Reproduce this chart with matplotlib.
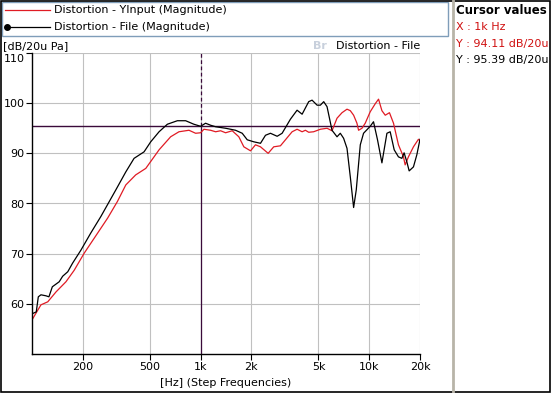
import numpy as np
import matplotlib.pyplot as plt
from matplotlib.lines import Line2D
from matplotlib.patches import Rectangle
from matplotlib.transforms import ScaledTranslation

# Distortion - YInput (Magnitude), red
freq_in = [100, 113, 124, 139, 159, 178, 204, 245, 281, 321, 360, 412, 473, 567,
           664, 744, 853, 934, 1000, 1046, 1146, 1227, 1314, 1406, 1540, 1685,
           1804, 1977, 2115, 2265, 2515, 2714, 2974, 3185, 3488, 3733, 3999, 4182,
           4375, 4680, 5130, 5620, 6014, 6440, 6895, 7381, 7722, 8079, 8455, 8645,
           9053, 9465, 10140, 10860, 11355, 11890, 12440, 13180, 13930, 14900,
           15960, 16330, 17080, 18290, 19580, 20000]
mag_in = [56.8, 59.8, 60.4, 62.4, 64.4, 66.7, 70.1, 74.1, 77.1, 80.4, 83.7, 85.7,
          87.0, 90.7, 93.3, 94.3, 94.6, 94.0, 94.1, 94.8, 94.6, 94.3, 94.5, 94.1,
          94.5, 93.3, 91.3, 90.5, 91.7, 91.3, 90.0, 91.3, 91.5, 92.7, 94.3, 94.8,
          94.3, 94.6, 94.2, 94.3, 94.8, 95.0, 94.5, 97.0, 98.1, 98.8, 98.5, 97.6,
          96.0, 94.6, 95.0, 96.0, 98.3, 99.9, 100.8, 98.5, 97.6, 98.1, 96.0, 91.7,
          89.3, 87.7, 89.3, 91.3, 92.8, 92.5]

# Distortion - File (Magnitude), black
freq_file = [100, 106, 109, 113, 121, 126, 132, 145, 152, 163, 174, 195, 223, 256,
             314, 360, 403, 462, 506, 567, 635, 728, 815, 912, 1000, 1070, 1146,
             1227, 1406, 1611, 1765, 1890, 2066, 2265, 2425, 2595, 2844, 3043, 3408,
             3733, 3999, 4375, 4581, 4906, 5130, 5370, 5620, 6014, 6440, 6735, 7047,
             7381, 7722, 8079, 8375, 8850, 9252, 10140, 10600, 11195, 11890, 12730,
             13310, 14060, 14900, 15610, 16100, 16710, 17250, 18290, 19150, 20000]
mag_file = [58.0, 58.4, 61.4, 61.8, 61.6, 61.4, 63.4, 64.4, 65.5, 66.4, 68.1, 70.7,
            74.1, 77.4, 82.7, 86.3, 89.0, 90.3, 92.3, 94.3, 95.8, 96.5, 96.5, 95.8,
            95.39, 96.0, 95.6, 95.3, 95.0, 94.6, 94.0, 92.7, 92.3, 92.0, 93.6, 94.0,
            93.4, 94.0, 96.8, 98.6, 97.8, 100.3, 100.6, 99.6, 99.6, 100.3, 99.3,
            94.6, 93.3, 94.0, 93.0, 91.0, 85.3, 79.2, 82.7, 91.7, 94.0, 95.4, 96.3,
            92.7, 88.1, 94.0, 94.3, 90.7, 89.3, 89.0, 90.1, 88.3, 86.5, 87.3, 89.7,
            92.8]

cursor_x = 1000
cursor_y = 95.39
xticks = [200, 500, 1000, 2000, 5000, 10000, 20000]
xticklabels = ['200', '500', '1k', '2k', '5k', '10k', '20k']
yticks = [60, 70, 80, 90, 100, 110]

W, H = 551, 393
fig = plt.figure(figsize=(W / 100, H / 100), dpi=100)
plt.rcParams['font.family'] = 'DejaVu Sans'
fs = 8


def fx(px):
    return px / W


def fy(py):
    return 1 - py / H


ax = fig.add_axes([fx(32), fy(354), (420 - 32) / W, (354 - 53) / H])
ax.set_xscale('log')
ax.set_xlim(100, 20000)
ax.set_ylim(50, 110)
ax.set_xticks(xticks)
ax.set_xticklabels(xticklabels, fontsize=fs)
ax.xaxis.set_minor_locator(plt.NullLocator())
ax.set_yticks(yticks)
ax.set_yticklabels([str(v) for v in yticks], fontsize=fs)
ax.tick_params(direction='out', length=4, width=0.8, pad=1.5)
ax.grid(True, color='#c0c0c0', linewidth=0.8)
ax.set_axisbelow(True)
for side in ['top', 'right']:
    ax.spines[side].set_visible(False)
for side in ['left', 'bottom']:
    ax.spines[side].set_linewidth(1.0)

# top label sits a little lower, inside the plot height
top_lbl = ax.get_yticklabels()[-1]
top_lbl.set_transform(top_lbl.get_transform() +
                      ScaledTranslation(0, -5 / 100, fig.dpi_scale_trans))

cur = '#3a0a3a'
ax.axhline(cursor_y, color=cur, linewidth=1.0)
ax.plot([cursor_x, cursor_x], [cursor_y, 110], color=cur, linewidth=0.9,
        linestyle=(0, (3, 2)))
ax.plot([cursor_x, cursor_x], [50, cursor_y], color=cur, linewidth=0.9)

ax.plot(freq_in, mag_in, color='#e01b24', linewidth=0.9)
ax.plot(freq_file, mag_file, color='black', linewidth=0.9)

# title, watermark, axis labels
fig.text(fx(313), fy(46), 'Br', fontsize=fs, color='#c8d0dc',
         fontweight='bold', va='center', ha='left')
fig.text(fx(420), fy(46), 'Distortion - File', fontsize=fs, va='center',
         ha='right')
fig.text(fx(3), fy(46), '[dB/20u Pa]', fontsize=fs, va='center', ha='left')
fig.text(fx(226), fy(383), '[Hz] (Step Frequencies)', fontsize=fs,
         va='center', ha='center')

# legend box
fig.patches.append(Rectangle((fx(2), fy(36)), (448 - 2) / W, 34 / H,
                             transform=fig.transFigure, fill=False,
                             edgecolor='#7f9db9', linewidth=1.0))
fig.lines.append(Line2D([fx(5), fx(50)], [fy(10), fy(10)],
                        transform=fig.transFigure, color='#e01b24', lw=0.9))
fig.lines.append(Line2D([fx(7), fx(50)], [fy(27), fy(27)],
                        transform=fig.transFigure, color='black', lw=0.9))
fig.lines.append(Line2D([fx(7)], [fy(27)], transform=fig.transFigure,
                        color='black', marker='o', markersize=4))
fig.text(fx(54), fy(10), 'Distortion - YInput (Magnitude)', fontsize=fs,
         va='center', ha='left')
fig.text(fx(54), fy(27), 'Distortion - File (Magnitude)', fontsize=fs,
         va='center', ha='left')

# cursor panel
fig.lines.append(Line2D([fx(453), fx(453)], [0, 1], transform=fig.transFigure,
                        color='#b8b4a8', lw=2))
panel = [('Cursor values', 'black', 'bold', 11),
         ('X : 1k Hz', '#d01010', 'normal', 27),
         ('Y : 94.11 dB/20u', '#d01010', 'normal', 44),
         ('Y : 95.39 dB/20u', 'black', 'normal', 60)]
for txt, col, wt, py in panel:
    fig.text(fx(456), fy(py), txt, fontsize=fs + 0.5 if wt == 'bold' else fs,
             color=col, fontweight=wt, va='center', ha='left')

# outer frame
fig.patches.append(Rectangle((0.001, 0.002), 0.997, 0.996,
                             transform=fig.transFigure, fill=False,
                             edgecolor='black', linewidth=1.2))

fig.savefig('out.png', dpi=100)
